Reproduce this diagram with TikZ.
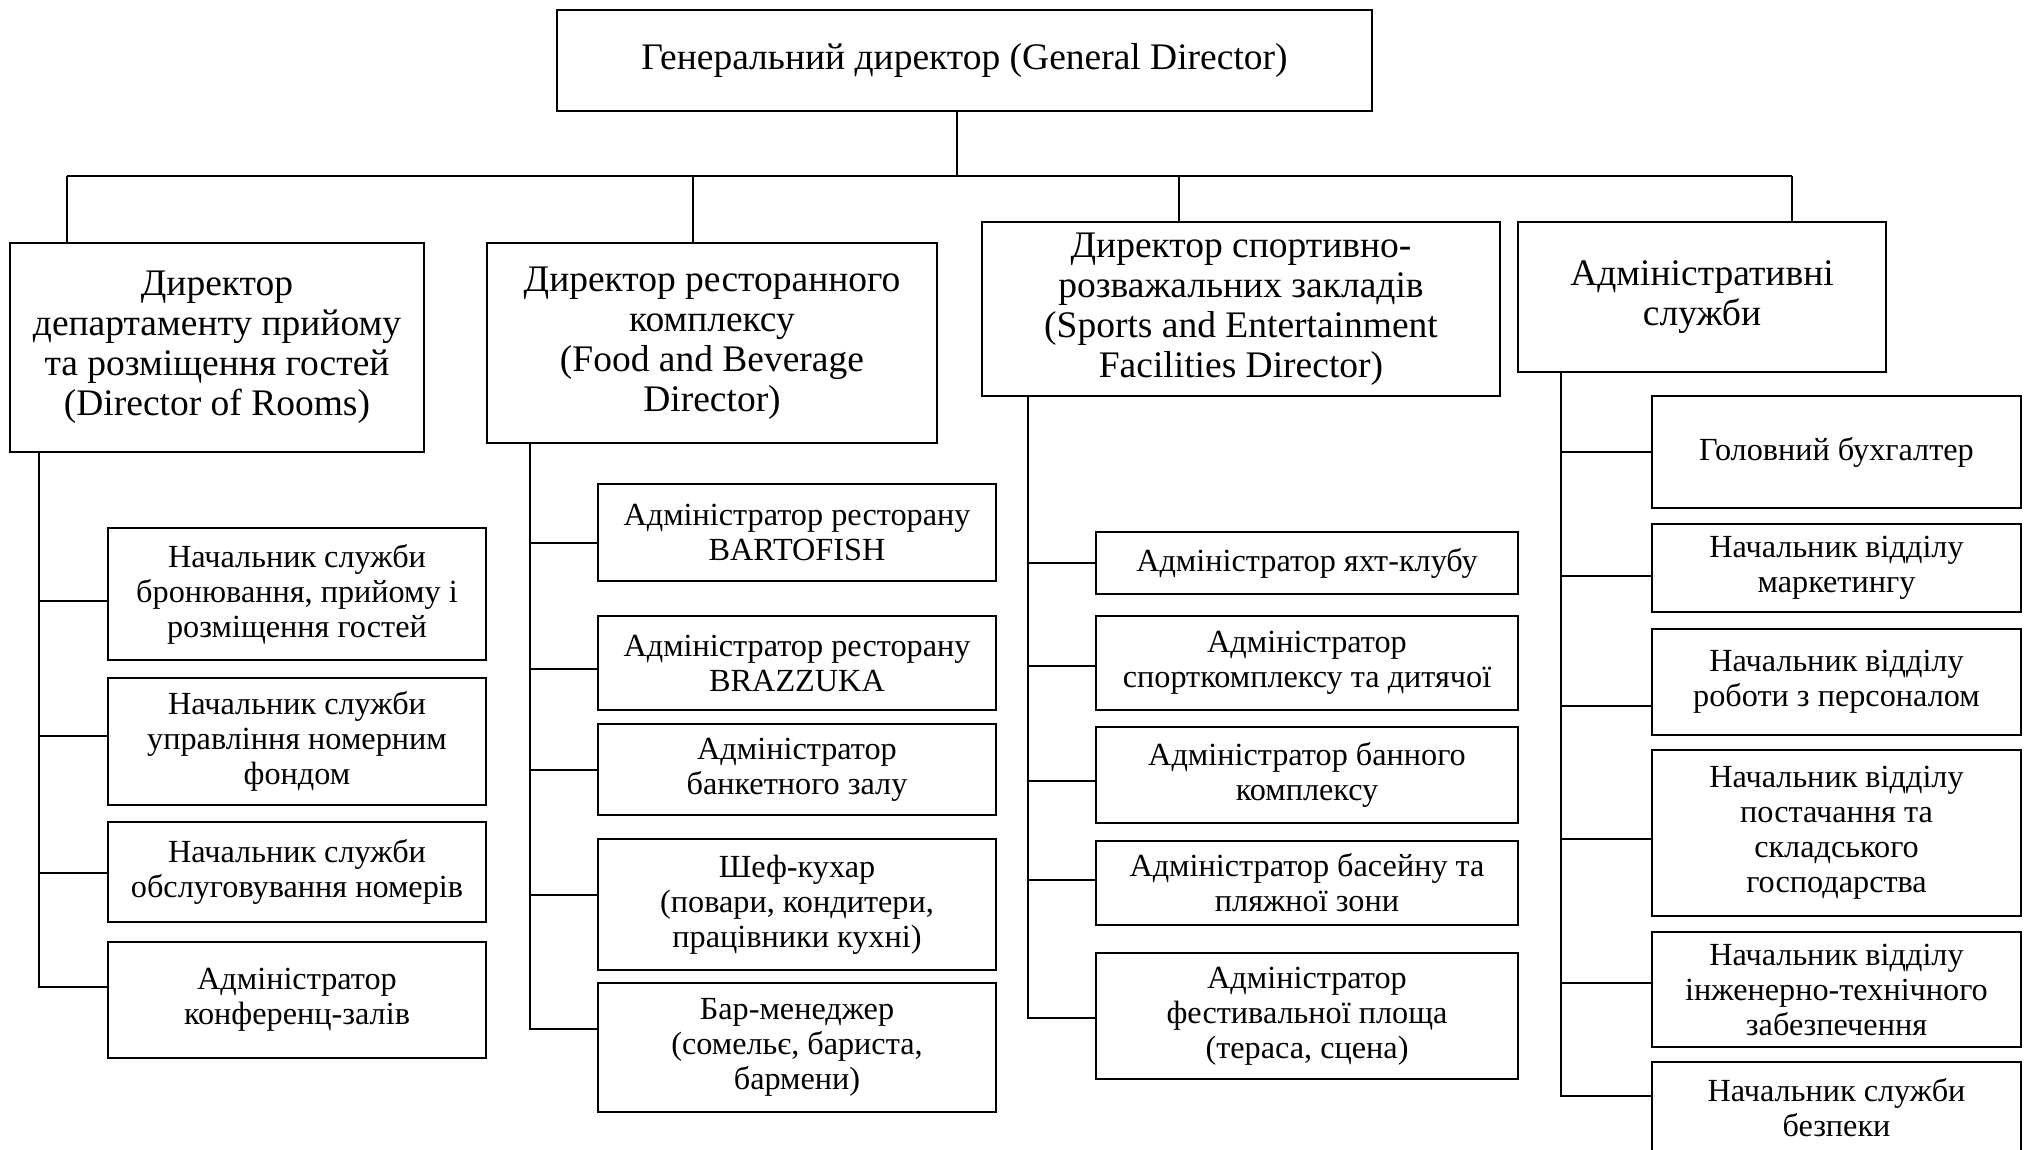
\documentclass[tikz,border=0pt]{standalone}
\usepackage{fontspec}
\setmainfont{Liberation Serif}
\tikzset{
  box/.style={draw,line width=0.8pt,align=center,inner sep=2pt},
  big/.style={box,font=\fontsize{15}{16}\selectfont},
  small/.style={box,font=\fontsize{12.9}{14}\selectfont},
  sz/.style 2 args={minimum width=#1*0.4pt,minimum height=#2*0.4pt},
  link/.style={line width=0.8pt}
}
\begin{document}
\begin{tikzpicture}[x=0.4pt,y=-0.4pt]
\useasboundingbox (0,0) rectangle (2027,1149);
\clip (0,0) rectangle (2027,1149);
\node[big,sz={815}{101}] (gd) at (964.5,60.5) {Генеральний директор (General Director)};
\node[big,sz={414}{209}] (rooms) at (217,347.5) {Директор\\департаменту прийому\\та розміщення гостей\\(Director of Rooms)};
\node[big,sz={450}{200}] (fnb) at (712,343) {Директор ресторанного\\комплексу\\(Food and Beverage\\Director)};
\node[big,sz={518}{174}] (sport) at (1241,309) {Директор спортивно-\\розважальних закладів\\(Sports and Entertainment\\Facilities Director)};
\node[big,sz={368}{150}] (adm) at (1702,297) {Адміністративні\\служби};
\node[small,sz={378}{132}] (r1) at (297,594) {Начальник служби\\бронювання, прийому і\\розміщення гостей};
\node[small,sz={378}{127}] (r2) at (297,741.5) {Начальник служби\\управління номерним\\фондом};
\node[small,sz={378}{100}] (r3) at (297,872) {Начальник служби\\обслуговування номерів};
\node[small,sz={378}{116}] (r4) at (297,1000) {Адміністратор\\конференц-залів};
\node[small,sz={398}{97}] (f1) at (797,532.5) {Адміністратор ресторану\\BARTOFISH};
\node[small,sz={398}{94}] (f2) at (797,663) {Адміністратор ресторану\\BRAZZUKA};
\node[small,sz={398}{91}] (f3) at (797,769.5) {Адміністратор\\банкетного залу};
\node[small,sz={398}{131}] (f4) at (797,904.5) {Шеф-кухар\\(повари, кондитери,\\працівники кухні)};
\node[small,sz={398}{129}] (f5) at (797,1047.5) {Бар-менеджер\\(сомельє, бариста,\\бармени)};
\node[small,sz={422}{62}] (s1) at (1307,563) {Адміністратор яхт-клубу};
\node[small,sz={422}{94}] (s2) at (1307,663) {Адміністратор\\спорткомплексу та дитячої};
\node[small,sz={422}{96}] (s3) at (1307,775) {Адміністратор банного\\комплексу};
\node[small,sz={422}{84}] (s4) at (1307,883) {Адміністратор басейну та\\пляжної зони};
\node[small,sz={422}{126}] (s5) at (1307,1016) {Адміністратор\\фестивальної площа\\(тераса, сцена)};
\node[small,sz={369}{112}] (a1) at (1836.5,452) {Головний бухгалтер};
\node[small,sz={369}{88}] (a2) at (1836.5,568) {Начальник відділу\\маркетингу};
\node[small,sz={369}{106}] (a3) at (1836.5,682) {Начальник відділу\\роботи з персоналом};
\node[small,sz={369}{166}] (a4) at (1836.5,833) {Начальник відділу\\постачання та\\складського\\господарства};
\node[small,sz={369}{115}] (a5) at (1836.5,989.5) {Начальник відділу\\інженерно-технічного\\забезпечення};
\node[small,sz={369}{92}] (a6) at (1836.5,1108) {Начальник служби\\безпеки};
\coordinate (d0) at (957,176);
\coordinate (d1) at (67,176);
\coordinate (d2) at (693,176);
\coordinate (d3) at (1179,176);
\coordinate (d4) at (1792,176);
\coordinate (v1) at (39,0);
\coordinate (v2) at (530,0);
\coordinate (v3) at (1028,0);
\coordinate (v4) at (1561,0);
\draw[link] (d1) -- (d4);
\draw[link] (d0 |- gd.south) -- (d0);
\foreach \d/\head in {d1/rooms,d2/fnb,d3/sport,d4/adm}{\draw[link] (\d) -- (\d |- \head.north);}
\foreach \head/\v/\kids in {rooms/v1/{r1/-7,r2/6,r3/-1,r4/13},fnb/v2/{f1/-10,f2/-6,f3/0,f4/10,f5/19},sport/v3/{s1/0,s2/-3,s3/-6,s4/3,s5/-2},adm/v4/{a1/0,a2/-8,a3/-24,a4/-6,a5/7,a6/12}}{
  \foreach \k/\s in \kids {\draw[link] (\head.south -| \v) |- ([yshift=\s*0.4pt]\k.west);}
}
\end{tikzpicture}
\end{document}
